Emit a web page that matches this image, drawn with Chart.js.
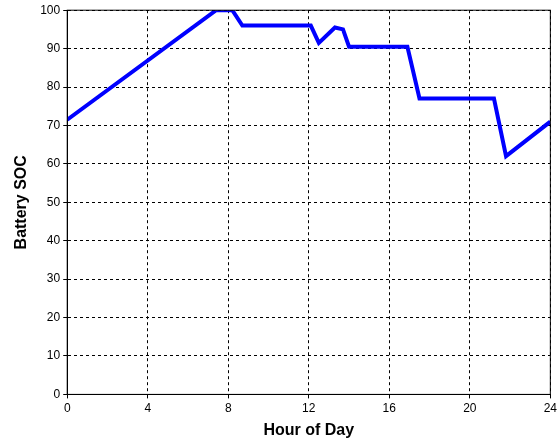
<!DOCTYPE html>
<html><head><meta charset="utf-8">
<script src="https://cdn.jsdelivr.net/npm/chart.js@4"></script>
<style>body{margin:0;background:#fff}#wrap{width:560px;height:440px}</style>
</head><body><div id="wrap"><canvas id="graph"></canvas></div>
<script>
const hours = [0, 7.4, 8.2, 8.7, 12.1, 12.5, 13.3, 13.7, 14.0, 16.9, 17.5, 21.2, 21.8, 24];
const soc = [71.5, 100, 100, 96, 96, 91.5, 95.5, 95, 90.5, 90.5, 77, 77, 62, 71];
const xTicks = [0, 4, 8, 12, 16, 20, 24];

const points = hours.map((h, i) => ({ x: h, y: soc[i] }));
const grid = { color: "#000", lineWidth: 1, drawTicks: true, tickLength: 4, tickColor: "#000" };
const border = { display: true, color: "#000", width: 1, dash: [3, 3] };
new Chart(document.getElementById("graph"), {
  type: "scatter",
  data: { datasets: [{ data: points, showLine: true, borderColor: "#0000ff", borderWidth: 4, pointRadius: 0, fill: false }] },
  options: {
    responsive: true, maintainAspectRatio: false, animation: false,
    layout: { padding: { top: 6, right: 8, left: 8, bottom: 0 } },
    plugins: { legend: { display: false }, tooltip: { enabled: false } },
    scales: {
      x: {
        type: "linear", min: 0, max: 24,
        afterBuildTicks: a => { a.ticks = xTicks.map(v => ({ value: v })); },
        grid: grid, border: border,
        ticks: { color: "#000", font: { family: "Liberation Sans", size: 12 }, padding: 3, maxRotation: 0 },
        title: { display: true, text: "Hour of Day", color: "#000", font: { family: "Liberation Sans", size: 16, weight: "bold" }, padding: { top: 2, bottom: 0 } }
      },
      y: {
        min: 0, max: 100,
        ticks: { stepSize: 10, color: "#000", font: { family: "Liberation Sans", size: 12 }, padding: 3 },
        grid: grid, border: border,
        title: { display: true, text: "Battery SOC", color: "#000", font: { family: "Liberation Sans", size: 16, weight: "bold" }, padding: { bottom: 6 } }
      }
    }
  },
  plugins: [{
    id: "box",
    afterDraw(c) {
      const { ctx, chartArea: a } = c;
      ctx.save(); ctx.strokeStyle = "#000"; ctx.lineWidth = 1;
      ctx.strokeRect(a.left, a.top, a.right - a.left, a.bottom - a.top);
      ctx.restore();
    }
  }]
});
</script></body></html>
